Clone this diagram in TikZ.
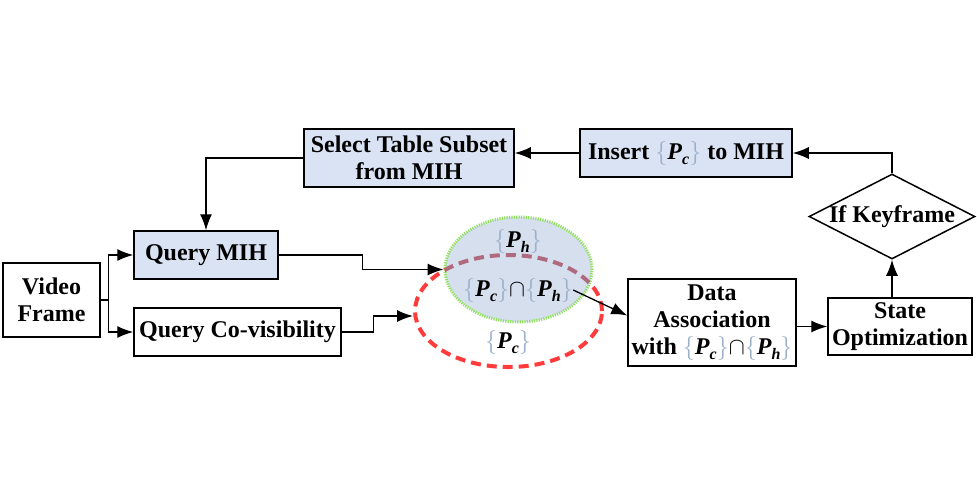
\documentclass[tikz,border=0pt]{standalone}
\usepackage{fontspec}
\setmainfont{Liberation Serif}
\usepackage{tikz}
\usetikzlibrary{positioning, shapes, arrows.meta}
\usepackage{xcolor}
\definecolor{mihcol}{HTML}{DAE3F3}
\definecolor{hsetcol}{HTML}{D6DFEE}
\definecolor{greencol}{HTML}{92E060}
\definecolor{redcol}{HTML}{FF3B3B}
\definecolor{mauvecol}{HTML}{B06A80}
\definecolor{bracecol}{HTML}{9AAFCB}
\newcommand{\pset}[1]{{\color{bracecol}$\big\{$}\textit{P}\raisebox{-0.5ex}{\fontsize{8}{8}\selectfont\textit{#1}}{\color{bracecol}$\big\}$}}

\begin{document}
\begin{tikzpicture}[x=0.5pt, y=-0.5pt,
  every node/.style={inner sep=0pt, align=center, font=\fontsize{12}{13.25}\selectfont\bfseries},
  box/.style={draw, line width=0.75pt, rectangle},
  mihbox/.style={box, fill=mihcol},
  pcset/.style={ellipse, draw=redcol, line width=2pt, dash pattern=on 5pt off 3pt, minimum width=93.5pt, minimum height=56pt},
  phset/.style={ellipse, fill=hsetcol, draw=greencol, line width=1.5pt, dash pattern=on 0.6pt off 0.6pt, minimum width=73.5pt, minimum height=52.5pt},
  arr/.style={-{Latex[length=8pt, width=6pt]}, line width=0.65pt}]
\useasboundingbox (0,0) rectangle (977,500);

% Left column
\node[box, minimum width=48.5pt, minimum height=37pt] (frame) at (51.5,300) {Video\\Frame};
\node[mihbox, minimum width=72pt, minimum height=24pt] (qmih) at (206,255) {Query MIH};
\node[box, minimum width=103.5pt, minimum height=24pt] (qcov) at (237.5,332) {Query Co-visibility};

% Top row
\node[mihbox, minimum width=105pt, minimum height=29pt] (select) at (409,158) {Select Table Subset\\from MIH};
\node[mihbox, minimum width=106pt, minimum height=24pt] (insert) at (686,153) {Insert \pset{c} to MIH};

% Right column
\node[diamond, draw, line width=0.75pt, minimum width=83pt, minimum height=42.5pt] (key) at (892,216.5) {};
\node (keytxt) at (key.center) {If Keyframe};
\node[box, minimum width=72pt, minimum height=28.5pt] (state) at (900,326.5) {State\\Optimization};
\node[box, minimum width=84pt, minimum height=43.5pt, font=\fontsize{12}{13.5}\selectfont\bfseries] (data) at (712,322.5) {Data\\Association\\with \pset{c}$\cap$\pset{h}};

% Sets
\node[pcset] (cset) at (508.5,311) {};
\node[phset] (hset) at (518.5,269.5) {};
\begin{scope}
\clip (hset.center) ellipse [x radius=36.75pt, y radius=26.25pt];
\node[pcset, draw=mauvecol] (csetin) at (cset.center) {};
\end{scope}
\node (phlbl) at (518,241) {\pset{h}};
\node (inter) at (518,290) {\pset{c}$\cap$\pset{h}};
\node (pclbl) at (508,342) {\pset{c}};

% Connectors
\draw[arr] (frame.east) -- ++(8,0) |- (qmih.west);
\draw[arr] (frame.east) -- ++(8,0) |- (qcov.west);
\draw[arr] (select.west) -| (qmih.north);
\draw[arr] (insert.west) -- (insert.west -| select.east);
\draw[arr] (key.north) |- (insert.east);
\draw[arr] (state.north -| key.south) -- (key.south);
\draw[arr] (data.east |- state.west) -- (state.west);
\draw[arr] (qmih.east) -- ++(84,0) |- (hset.west);
\draw[arr] (qcov.east) -- ++(32,0) |- ([yshift=-2.5pt]cset.west);
\draw[arr] (inter.east) -- ([yshift=3.5pt]data.west);
\end{tikzpicture}
\end{document}
